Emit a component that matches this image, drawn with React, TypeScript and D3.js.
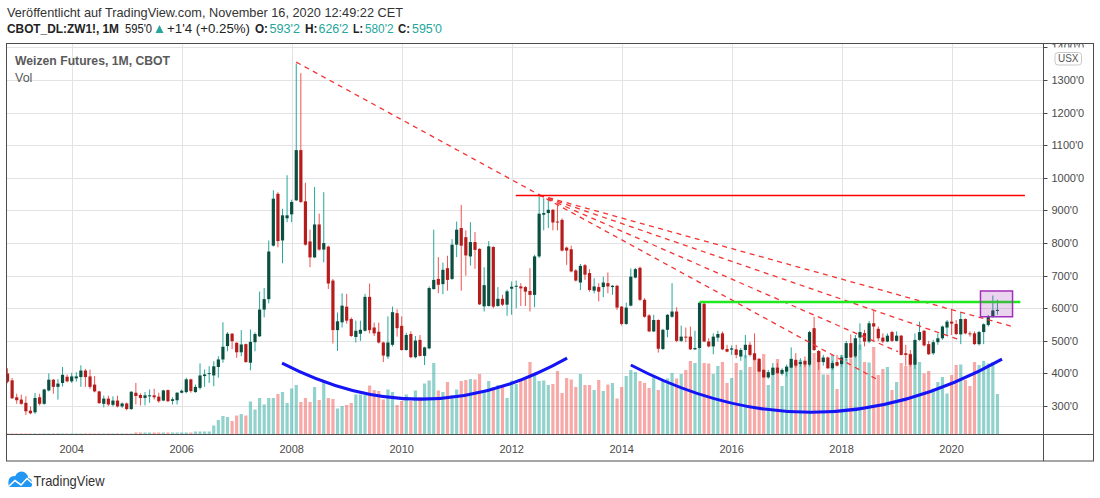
import React, { useEffect, useRef } from 'react';
import * as d3 from 'd3';

// CBOT wheat, monthly bars from Nov 2002 to Nov 2020 (cents per bushel)
const FIRST_YEAR = 2002;
const FIRST_MONTH = 11;

const opens = [
  400, 379, 327, 320, 310, 286, 281, 327, 307, 348, 381, 359, 371, 390,
  376, 385, 389, 409, 391, 366, 345, 307, 323, 304, 317, 299,
  308, 291, 341, 334, 325, 331, 333, 329, 317, 349, 316, 318,
  341, 343, 382, 343, 356, 392, 398, 394, 420, 443, 484, 522,
  494, 465, 490, 433, 496, 514, 596, 628, 792, 951, 808, 876,
  888, 931, 1085, 928, 805, 756, 857, 780, 789, 685, 533, 557,
  605, 567, 512, 522, 531, 635, 541, 528, 495, 452, 488, 585,
  546, 472, 521, 450, 503, 454, 477, 659, 690, 674, 723, 690,
  795, 846, 818, 759, 803, 782, 606, 607, 788, 607, 629, 611,
  660, 666, 667, 665, 653, 641, 759, 887, 892, 902, 866, 871,
  786, 781, 716, 679, 732, 708, 654, 665, 665, 677, 665, 669,
  605, 552, 608, 694, 724, 626, 578, 529, 564, 475, 534, 574,
  590, 500, 513, 513, 474, 478, 614, 498, 483, 510, 523, 475,
  473, 474, 452, 472, 488, 462, 445, 411, 388, 396, 418, 399,
  406, 418, 442, 429, 439, 427, 539, 469, 435, 449, 416, 435,
  429, 447, 493, 452, 510, 524, 498, 554, 537, 510, 498, 527,
  500, 516, 462, 459, 427, 503, 531, 490, 462, 496, 508, 541,
  559, 552, 520, 567, 523, 523, 490, 527, 549, 574, 593.25,
];
const highs = [
  416, 386, 338, 335, 330, 299, 340, 338, 353, 400, 383, 383, 420, 397,
  402, 404, 425, 414, 412, 392, 347, 332, 332, 330, 332, 311,
  311, 346, 371, 339, 343, 351, 353, 341, 350, 351, 327, 343,
  351, 387, 384, 366, 431, 412, 422, 438, 453, 557, 527, 524,
  496, 533, 492, 535, 526, 651, 662, 808, 962, 956, 905, 1008,
  933, 1351, 1321, 985, 841, 972, 890, 956, 792, 690, 587, 646,
  644, 572, 562, 562, 644, 676, 556, 556, 498, 575, 605, 597,
  575, 525, 529, 515, 518, 482, 667, 841, 757, 740, 761, 812,
  866, 917, 839, 864, 834, 784, 726, 806, 790, 665, 641, 657,
  682, 685, 677, 668, 723, 764, 951, 938, 933, 904, 917, 876,
  789, 792, 720, 736, 736, 720, 692, 677, 697, 710, 671, 672,
  607, 617, 722, 724, 728, 631, 582, 580, 566, 537, 582, 677,
  603, 547, 541, 544, 531, 618, 617, 508, 523, 531, 529, 488,
  486, 488, 478, 518, 496, 523, 447, 413, 411, 432, 432, 416,
  427, 480, 462, 447, 452, 531, 574, 472, 457, 452, 439, 457,
  457, 500, 520, 518, 554, 534, 561, 592, 544, 523, 523, 531,
  529, 518, 488, 472, 523, 559, 534, 500, 503, 523, 547, 564,
  598, 564, 588, 569, 529, 529, 531, 554, 580, 639, 626.25,
];
const lows = [
  370, 322, 307, 304, 273, 275, 276, 302, 304, 345, 338, 320, 360, 373,
  371, 375, 359, 359, 353, 342, 307, 296, 300, 299, 296, 294,
  287, 288, 305, 302, 302, 310, 320, 310, 315, 312, 305, 305,
  339, 339, 341, 341, 351, 359, 371, 361, 387, 433, 468, 475,
  448, 453, 433, 410, 468, 512, 572, 615, 789, 787, 738, 864,
  864, 929, 923, 792, 726, 754, 777, 741, 659, 492, 469, 541,
  553, 512, 495, 500, 529, 523, 515, 492, 435, 445, 483, 513,
  470, 470, 447, 446, 452, 426, 474, 657, 646, 643, 654, 687,
  757, 654, 700, 731, 721, 610, 590, 605, 600, 605, 607, 577,
  580, 600, 607, 607, 590, 603, 754, 839, 846, 839, 839, 774,
  733, 710, 682, 656, 687, 651, 646, 621, 634, 646, 641, 595,
  547, 549, 606, 692, 622, 571, 527, 527, 464, 472, 511, 571,
  496, 496, 496, 472, 472, 476, 496, 480, 459, 498, 472, 465,
  457, 447, 439, 447, 452, 439, 404, 386, 384, 394, 398, 394,
  391, 416, 418, 421, 419, 421, 469, 411, 424, 414, 411, 421,
  421, 439, 447, 447, 472, 483, 493, 498, 500, 493, 496, 496,
  498, 455, 424, 421, 414, 500, 483, 457, 457, 488, 503, 518,
  518, 518, 490, 520, 513, 488, 486, 490, 544, 571, 580.25,
];
const closes = [
  375, 324, 318, 307, 284, 278, 325, 307, 351, 381, 359, 369, 396, 376,
  391, 391, 409, 389, 359, 345, 309, 323, 305, 317, 299, 308,
  291, 344, 331, 325, 333, 333, 327, 315, 348, 315, 321, 341,
  347, 382, 346, 359, 394, 397, 401, 422, 443, 482, 522, 499,
  465, 489, 435, 497, 521, 596, 628, 774, 936, 806, 885, 885,
  926, 1085, 926, 795, 756, 857, 780, 800, 676, 533, 560, 608,
  562, 515, 531, 534, 635, 533, 523, 495, 455, 495, 588, 539,
  472, 518, 450, 501, 454, 480, 662, 687, 672, 718, 687, 795,
  841, 792, 762, 803, 779, 612, 671, 790, 605, 629, 611, 652,
  666, 669, 661, 651, 641, 759, 890, 892, 902, 863, 863, 777,
  777, 713, 685, 730, 703, 656, 667, 651, 679, 667, 669, 602,
  552, 602, 697, 720, 626, 574, 529, 564, 476, 534, 580, 590,
  500, 513, 510, 474, 478, 617, 498, 483, 513, 521, 474, 467,
  477, 457, 472, 488, 457, 442, 406, 388, 404, 418, 401, 411,
  421, 445, 424, 435, 427, 527, 472, 435, 449, 416, 432, 424,
  449, 493, 449, 508, 527, 498, 554, 544, 508, 498, 516, 500,
  516, 457, 457, 427, 503, 527, 486, 459, 496, 508, 544, 559,
  553, 521, 567, 523, 520, 490, 527, 551, 574, 593.5, 595,
];
// thousand contracts
const volumes = [
  2, 2, 2, 2, 2, 2, 2, 2, 2, 2, 2, 2, 2, 2,
  2, 2, 2, 2, 2, 2, 2, 2, 2, 2, 2, 2,
  2, 2, 4, 4, 4, 4, 4, 4, 4, 4, 4, 4,
  4, 4, 4, 6, 6, 6, 6, 18, 29, 37, 35, 27,
  38, 41, 38, 66, 50, 73, 60, 73, 73, 81, 85, 63,
  92, 99, 65, 73, 65, 95, 69, 105, 73, 71, 52, 57,
  59, 63, 80, 80, 79, 98, 89, 87, 70, 90, 85, 59,
  67, 80, 67, 88, 75, 102, 108, 143, 88, 85, 105, 79,
  90, 107, 109, 111, 110, 121, 89, 107, 95, 99, 99, 73,
  108, 101, 107, 110, 145, 121, 107, 108, 99, 101, 127, 83,
  113, 110, 95, 121, 99, 99, 89, 109, 87, 100, 103, 72,
  95, 117, 129, 125, 107, 103, 93, 115, 89, 107, 112, 123,
  112, 121, 129, 147, 143, 172, 143, 142, 121, 137, 145, 103,
  113, 143, 129, 159, 135, 152, 145, 161, 99, 133, 151, 97,
  132, 144, 144, 149, 139, 152, 163, 165, 120, 120, 159, 91,
  159, 151, 152, 155, 180, 145, 144, 175, 119, 131, 135, 89,
  105, 143, 137, 162, 152, 145, 122, 127, 92, 105, 115, 82,
  119, 139, 140, 109, 97, 145, 139, 147, 142, 145, 81,
];

const priceTicks = [300, 400, 500, 600, 700, 800, 900, 1000, 1100, 1200, 1300, 1400];
const yearTicks = [2004, 2006, 2008, 2010, 2012, 2014, 2016, 2018, 2020];

// drawings, anchors as [year, month, price]
const dashedLines = [
  [[2008, 2, 1355], [2018, 9, 380]],
  [[2012, 7, 947], [2021, 2.8, 542]],
  [[2012, 7, 947], [2020, 2.4, 505]],
  [[2012, 7, 947], [2019, 1.3, 467]],
];
const resistance = { from: [2012, 1.9], to: [2021, 5], price: 946 };
const breakout = { from: [2015, 6], to: [2021, 4], price: 619 };
const focusBox = { from: [2020, 7.3], to: [2021, 2.3], low: 574, high: 653 };
const bowls = [
  [[2007, 10.9, 432], [2010, 6.1, 321.5], [2013, 1.1, 447]],
  [[2014, 3, 426], [2017, 7.5, 281], [2020, 12, 444]],
];

const barIndex = (year: number, month: number) =>
  (year - FIRST_YEAR) * 12 + (month - FIRST_MONTH);

const fmt = (p: number) => {
  const whole = Math.floor(p);
  const eighths = Math.round((p - whole) * 8);
  return `${whole}'${eighths}`;
};

const FONT = "'Liberation Sans', Arial, sans-serif";

export default function App() {
  const svgRef = useRef<SVGSVGElement>(null);

  useEffect(() => {
    const svg = d3.select(svgRef.current);
    svg.selectAll('*').remove();

    const width = 1100;
    const height = 498;
    const plot = { left: 6.5, top: 43.5, right: 1043.5, bottom: 434.5 };
    const frameRight = 1093.5;
    const frameBottom = 461;

    svg.attr('width', width).attr('height', height).style('background', '#fff');

    const x = d3.scaleLinear()
      .domain([barIndex(2004, 1), barIndex(2020, 1)])
      .range([71.7, 951.6]);
    const y = d3.scaleLinear().domain([300, 1300]).range([406.1, 80]);
    const yVol = d3.scaleLinear().domain([0, 200]).range([plot.bottom, plot.bottom - 100]);

    const defs = svg.append('defs');
    defs.append('clipPath').attr('id', 'plotClip')
      .append('rect')
      .attr('x', plot.left).attr('y', plot.top)
      .attr('width', plot.right - plot.left).attr('height', plot.bottom - plot.top);
    defs.append('clipPath').attr('id', 'axisClip')
      .append('rect')
      .attr('x', plot.right).attr('y', plot.top)
      .attr('width', frameRight - plot.right).attr('height', plot.bottom - plot.top);

    // header
    svg.append('text')
      .attr('x', 7).attr('y', 16.5)
      .attr('font-family', FONT).attr('font-size', 13).attr('fill', '#333')
      .attr('textLength', 396).attr('lengthAdjust', 'spacingAndGlyphs')
      .text('Veröffentlicht auf TradingView.com, November 16, 2020 12:49:22 CET');

    const head = [
      { t: 'CBOT_DL:ZW1!, 1M', x: 7, w: 112, bold: true, c: '#222' },
      { t: "595'0", x: 125, w: 27, bold: false, c: '#222' },
      { t: '+1\'4 (+0.25%)', x: 167, w: 83, bold: false, c: '#222' },
      { t: 'O:', x: 255, w: 13, bold: true, c: '#222' },
      { t: "593'2", x: 269.5, w: 30.5, bold: false, c: '#26a69a' },
      { t: 'H:', x: 305, w: 12.5, bold: true, c: '#222' },
      { t: "626'2", x: 318.5, w: 30, bold: false, c: '#26a69a' },
      { t: 'L:', x: 353, w: 10, bold: true, c: '#222' },
      { t: "580'2", x: 365, w: 28.5, bold: false, c: '#26a69a' },
      { t: 'C:', x: 398, w: 12, bold: true, c: '#222' },
      { t: "595'0", x: 412, w: 30, bold: false, c: '#26a69a' },
    ];
    svg.append('g').selectAll('text').data(head).enter().append('text')
      .attr('x', d => d.x).attr('y', 33)
      .attr('font-family', FONT).attr('font-size', 12.5)
      .attr('font-weight', d => (d.bold ? 'bold' : 'normal'))
      .attr('fill', d => d.c)
      .attr('textLength', d => d.w).attr('lengthAdjust', 'spacingAndGlyphs')
      .text(d => d.t);
    svg.append('path')
      .attr('d', 'M155.5,33 L159.5,25 L163.5,33 Z')
      .attr('fill', '#26a69a');

    // grid
    const grid = svg.append('g').attr('clip-path', 'url(#plotClip)');
    grid.selectAll('line.h').data(priceTicks).enter().append('line')
      .attr('x1', plot.left).attr('x2', plot.right)
      .attr('y1', d => Math.round(y(d)) + 0.5).attr('y2', d => Math.round(y(d)) + 0.5)
      .attr('stroke', '#e3e3e3').attr('stroke-width', 1);
    grid.selectAll('line.v').data(yearTicks).enter().append('line')
      .attr('x1', d => Math.round(x(barIndex(d, 1))) + 0.5)
      .attr('x2', d => Math.round(x(barIndex(d, 1))) + 0.5)
      .attr('y1', plot.top).attr('y2', plot.bottom)
      .attr('stroke', '#e3e3e3').attr('stroke-width', 1);

    const bars = closes.map((c, i) => ({
      i, o: opens[i], h: highs[i], l: lows[i], c, v: volumes[i], up: c >= opens[i],
    }));

    const chart = svg.append('g').attr('clip-path', 'url(#plotClip)');

    // volume
    chart.append('g').selectAll('rect').data(bars).enter().append('rect')
      .attr('x', d => x(d.i) - 1.6).attr('width', 3.2)
      .attr('y', d => yVol(d.v)).attr('height', d => plot.bottom - yVol(d.v))
      .attr('fill', d => (d.up ? 'rgba(38,166,154,0.5)' : 'rgba(239,83,80,0.5)'));

    // candles
    const candle = chart.append('g').selectAll('g').data(bars).enter().append('g');
    candle.append('line')
      .attr('x1', d => x(d.i)).attr('x2', d => x(d.i))
      .attr('y1', d => y(d.h)).attr('y2', d => y(d.l))
      .attr('stroke', d => (d.up ? '#26a69a' : '#ef5350')).attr('stroke-width', 1);
    candle.append('rect')
      .attr('x', d => x(d.i) - 1.6).attr('width', 3.2)
      .attr('y', d => y(Math.max(d.o, d.c)))
      .attr('height', d => Math.max(1, Math.abs(y(d.o) - y(d.c))))
      .attr('fill', d => (d.up ? '#0b4f40' : '#b71c1c'));

    // drawings
    const draw = svg.append('g').attr('clip-path', 'url(#plotClip)');
    draw.selectAll('line.trend').data(dashedLines).enter().append('line')
      .attr('x1', d => x(barIndex(d[0][0], d[0][1]))).attr('y1', d => y(d[0][2]))
      .attr('x2', d => x(barIndex(d[1][0], d[1][1]))).attr('y2', d => y(d[1][2]))
      .attr('stroke', '#f43333').attr('stroke-width', 1.3)
      .attr('stroke-dasharray', '5,4.5');

    draw.append('line')
      .attr('x1', x(barIndex(resistance.from[0], resistance.from[1])))
      .attr('x2', x(barIndex(resistance.to[0], resistance.to[1])))
      .attr('y1', y(resistance.price)).attr('y2', y(resistance.price))
      .attr('stroke', '#ff0000').attr('stroke-width', 1.4);

    draw.append('line')
      .attr('x1', x(barIndex(breakout.from[0], breakout.from[1])))
      .attr('x2', x(barIndex(breakout.to[0], breakout.to[1])))
      .attr('y1', y(breakout.price)).attr('y2', y(breakout.price))
      .attr('stroke', '#1ee81e').attr('stroke-width', 2.5);

    bowls.forEach(([s, m, e]) => {
      const p0 = [x(barIndex(s[0], s[1])), y(s[2])];
      const pm = [x(barIndex(m[0], m[1])), y(m[2])];
      const p2 = [x(barIndex(e[0], e[1])), y(e[2])];
      const cx = 2 * pm[0] - (p0[0] + p2[0]) / 2;
      const cy = 2 * pm[1] - (p0[1] + p2[1]) / 2;
      const path = d3.path();
      path.moveTo(p0[0], p0[1]);
      path.quadraticCurveTo(cx, cy, p2[0], p2[1]);
      draw.append('path')
        .attr('d', path.toString())
        .attr('fill', 'none').attr('stroke', '#1414f5').attr('stroke-width', 3);
    });

    const bx0 = x(barIndex(focusBox.from[0], focusBox.from[1]));
    const bx1 = x(barIndex(focusBox.to[0], focusBox.to[1]));
    draw.append('rect')
      .attr('x', bx0).attr('width', bx1 - bx0)
      .attr('y', y(focusBox.high)).attr('height', y(focusBox.low) - y(focusBox.high))
      .attr('fill', 'rgba(156,39,176,0.2)').attr('stroke', '#a030b8').attr('stroke-width', 1.5);

    // legend
    svg.append('text')
      .attr('x', 15).attr('y', 65)
      .attr('font-family', FONT).attr('font-size', 12.5).attr('font-weight', 'bold')
      .attr('fill', '#5a5a5a')
      .attr('textLength', 155).attr('lengthAdjust', 'spacingAndGlyphs')
      .text('Weizen Futures, 1M, CBOT');
    svg.append('text')
      .attr('x', 15).attr('y', 81.5)
      .attr('font-family', FONT).attr('font-size', 12.5)
      .attr('fill', '#5a5a5a')
      .text('Vol');

    // price axis
    const axis = svg.append('g').attr('clip-path', 'url(#axisClip)');
    axis.selectAll('line').data(priceTicks).enter().append('line')
      .attr('x1', plot.right).attr('x2', plot.right + 4)
      .attr('y1', d => Math.round(y(d)) + 0.5).attr('y2', d => Math.round(y(d)) + 0.5)
      .attr('stroke', '#4a4a4a');
    axis.selectAll('text').data(priceTicks).enter().append('text')
      .attr('x', 1051.5).attr('y', d => y(d)).attr('dy', '0.36em')
      .attr('font-family', FONT).attr('font-size', 11).attr('fill', '#4a4a4a')
      .text(d => fmt(d));
    svg.append('rect')
      .attr('x', 1050).attr('y', 47.5).attr('width', 38).attr('height', 19)
      .attr('fill', '#fff');
    svg.append('rect')
      .attr('x', 1055).attr('y', 52.5).attr('width', 26.5).attr('height', 12.5).attr('rx', 3)
      .attr('fill', '#fff').attr('stroke', '#c9c9c9');
    svg.append('text')
      .attr('x', 1068.2).attr('y', 62.3).attr('text-anchor', 'middle')
      .attr('font-family', FONT).attr('font-size', 10).attr('fill', '#555')
      .text('USX');

    // time axis
    svg.append('g').selectAll('text').data(yearTicks).enter().append('text')
      .attr('x', d => x(barIndex(d, 1))).attr('y', 452.5)
      .attr('text-anchor', 'middle')
      .attr('font-family', FONT).attr('font-size', 11).attr('fill', '#4a4a4a')
      .text(d => d);

    // frame
    const frame = svg.append('g').attr('stroke', '#4d4d4d').attr('fill', 'none');
    frame.append('rect')
      .attr('x', plot.left).attr('y', plot.top)
      .attr('width', frameRight - plot.left).attr('height', frameBottom - plot.top);
    frame.append('line').attr('x1', plot.right).attr('x2', plot.right)
      .attr('y1', plot.top).attr('y2', frameBottom);
    frame.append('line').attr('x1', plot.left).attr('x2', frameRight)
      .attr('y1', plot.bottom).attr('y2', plot.bottom);

    // footer logo
    const logo = svg.append('g');
    logo.append('circle').attr('cx', 14).attr('cy', 481.5).attr('r', 5.5).attr('fill', '#2196f3');
    logo.append('circle').attr('cx', 21.5).attr('cy', 478).attr('r', 6.5).attr('fill', '#2196f3');
    logo.append('circle').attr('cx', 27.5).attr('cy', 482.5).attr('r', 4.5).attr('fill', '#2196f3');
    logo.append('rect').attr('x', 8.5).attr('y', 481).attr('width', 23.5).attr('height', 6)
      .attr('rx', 2).attr('fill', '#2196f3');
    logo.append('polyline')
      .attr('points', '9,486 15,480.5 21,485 27,478.5 32,483')
      .attr('fill', 'none').attr('stroke', '#fff').attr('stroke-width', 1.6);
    logo.append('text')
      .attr('x', 33.5).attr('y', 485.5)
      .attr('font-family', FONT).attr('font-size', 15).attr('fill', '#333')
      .attr('textLength', 71).attr('lengthAdjust', 'spacingAndGlyphs')
      .text('TradingView');
  }, []);

  return (
    <div style={{ position: 'absolute', left: 0, top: 0, background: '#fff' }}>
      <svg ref={svgRef} style={{ display: 'block' }}></svg>
    </div>
  );
}
